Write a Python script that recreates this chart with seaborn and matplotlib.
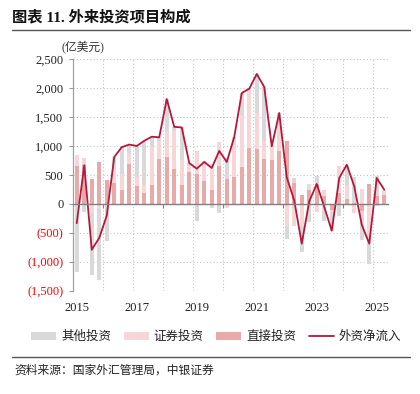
import numpy as np
import pandas as pd
import matplotlib
matplotlib.use("Agg")
import matplotlib.pyplot as plt
from matplotlib.patches import Patch
from matplotlib.lines import Line2D
import seaborn as sns

# ---------------- data (亿美元, quarterly 2015Q1 - 2025Q2) ----------------
quarters = [f"{y}Q{q}" for y in range(2015, 2026) for q in range(1, 5)][:42]
direct = [660, 680, 437, 725, 420, 370, 250, 690, 316, 190,
          320, 780, 810, 610, 335, 560, 523, 402, 241, 650,
          437, 460, 632, 960, 943, 782, 764, 920, 1080, 360,
          161, 240, 345, 130, -100, 190, 92, 20, -115, 350,
          130, 160]
securities = [190, 115, -155, -90, -40, 230, 260, 190, 144, 145,
              660, 300, 450, 650, 430, 90, 385, 333, 450, 420,
              -70, 600, 908, 983, 627, 299, 250, 391, -385, -385,
              -385, 110, -145, 110, -40, 470, 230, -155, 260, -673,
              -30, 86]
other = [-1180, -145, -1070, -1220, -600, 210, 470, 145, 540, 755,
         180, 70, 550, 70, 555, 57, -300, -10, -70, -155,
         357, 95, 373, 45, 672, 937, -20, 259, -218, 90,
         -448, -310, 130, -300, -320, -213, 356, 440, -500, -362,
         350, 0]
net_inflow = [-330, 670, -788, -585, -200, 810, 980, 1025, 1000, 1090,
              1160, 1150, 1810, 1330, 1320, 707, 608, 725, 621, 915,
              724, 1155, 1913, 1988, 2242, 2018, 994, 1570, 460, 60,
              -684, 46, 345, -50, -460, 448, 678, 305, -357, -684,
              448, 247]
year_labels = ["2015", "2017", "2019", "2021", "2023", "2025"]
y_ticks = [2500, 2000, 1500, 1000, 500, 0, -500, -1000, -1500]
legend_names = ["其他投资", "证券投资", "直接投资", "外资净流入"]

# ---------------- style ----------------
sns.set_theme(style="white")
plt.rcParams["font.family"] = ["Liberation Serif", "Noto Sans CJK SC", "DejaVu Sans"]
plt.rcParams["axes.unicode_minus"] = False

C_OTHER = "#d9d9d9"
C_SEC = "#f6d6d6"
C_DIRECT = "#e8a9a9"
C_LINE = "#b8173c"

df = pd.DataFrame({"q": quarters, "direct": direct, "sec": securities,
                   "other": other, "net": net_inflow})
d_pos = df["direct"].clip(lower=0)
s_pos = df["sec"].clip(lower=0)
o_pos = df["other"].clip(lower=0)
d_neg = df["direct"].clip(upper=0)
s_neg = df["sec"].clip(upper=0)
o_neg = df["other"].clip(upper=0)
df["l3p"] = d_pos + s_pos + o_pos
df["l2p"] = d_pos + s_pos
df["l1p"] = d_pos
df["l3n"] = d_neg + s_neg + o_neg
df["l2n"] = d_neg + s_neg
df["l1n"] = d_neg

fig = plt.figure(figsize=(4.2, 3.94), dpi=100)
ax = fig.add_axes([73 / 420, 1 - 291 / 394, 315 / 420, 232 / 394])

bw = 0.55
for col, c in [("l3p", C_OTHER), ("l3n", C_OTHER), ("l2p", C_SEC), ("l2n", C_SEC),
               ("l1p", C_DIRECT), ("l1n", C_DIRECT)]:
    sns.barplot(data=df, x="q", y=col, order=quarters, color=c, width=bw,
                saturation=1, errorbar=None, ax=ax, zorder=2, linewidth=0)

df["idx"] = np.arange(len(df))
sns.lineplot(data=df, x="idx", y="net", color=C_LINE, linewidth=1.3, ax=ax,
             zorder=4, legend=False)

ax.set_xlim(-0.5, len(quarters) - 0.5)
ax.set_ylim(-1500, 2500)
ax.set_xlabel("")
ax.set_ylabel("")

# y axis
ax.set_yticks(y_ticks)
ax.set_yticklabels([f"{v:,}" if v >= 0 else f"({-v:,})" for v in y_ticks])
for lab, v in zip(ax.get_yticklabels(), y_ticks):
    lab.set_color("#ff0000" if v < 0 else "#222222")
ax.tick_params(axis="y", which="both", left=True, length=3, width=0.8,
               color="#999999", pad=4, labelsize=9)
ax.grid(axis="y", color="#c4c4c4", linestyle=(0, (1, 2)), linewidth=0.8, zorder=0)

# x axis: spine at zero, ticks at year boundaries
for s in ["top", "right"]:
    ax.spines[s].set_visible(False)
ax.spines["left"].set_color("#a0a0a0")
ax.spines["left"].set_linewidth(0.9)
ax.spines["bottom"].set_position(("data", 0))
ax.spines["bottom"].set_color("#808080")
ax.spines["bottom"].set_linewidth(1.0)
ax.spines["bottom"].set_zorder(5)
bounds_major = [3.5 + 8 * i for i in range(5)]
bounds_minor = [7.5 + 8 * i for i in range(5)]
ax.set_xticks(bounds_major)
ax.set_xticks(bounds_minor, minor=True)
ax.set_xticklabels([])
ax.tick_params(axis="x", which="major", bottom=True, length=3, width=0.8,
               color="#808080", direction="out")
ax.tick_params(axis="x", which="minor", bottom=False, length=0)
ax.grid(axis="x", which="both", color="#c4c4c4", linestyle=(0, (1, 2)),
        linewidth=0.8, zorder=0)
ax.set_axisbelow(True)

sec = ax.secondary_xaxis(0)
sec.set_xticks([0, 8, 16, 24, 32, 40])
sec.set_xticklabels(year_labels)
sec.tick_params(axis="x", length=0, pad=8, labelsize=9, labelcolor="#222222")
sec.spines["bottom"].set_visible(False)

# texts
fig.text(12 / 420, 1 - 17 / 394, "图表 11. 外来投资项目构成", fontsize=11,
         fontweight="bold", va="center", ha="left", color="#111111")
fig.add_artist(Line2D([12 / 420, 410 / 420], [1 - 30 / 394] * 2,
                      color="#555555", linewidth=1.0))
fig.text(62 / 420, 1 - 47 / 394, "(亿美元)", fontsize=8.5, va="center",
         ha="left", color="#333333")
fig.add_artist(Line2D([12 / 420, 410 / 420], [1 - 357 / 394] * 2,
                      color="#555555", linewidth=1.0))
fig.text(14 / 420, 1 - 371 / 394, "资料来源：国家外汇管理局，中银证券", fontsize=8.5,
         va="center", ha="left", color="#222222", style="italic")

handles = [Patch(facecolor=C_OTHER, edgecolor="none"),
           Patch(facecolor=C_SEC, edgecolor="none"),
           Patch(facecolor=C_DIRECT, edgecolor="none"),
           Line2D([0], [0], color=C_LINE, linewidth=1.3)]
fig.legend(handles, legend_names, loc="center", bbox_to_anchor=(0.515, 1 - 337 / 394),
           ncol=4, frameon=False, fontsize=9, handlelength=2.0, handleheight=0.6,
           handletextpad=0.4, columnspacing=1.0, labelcolor="#222222")

fig.savefig("out.png", dpi=100)
